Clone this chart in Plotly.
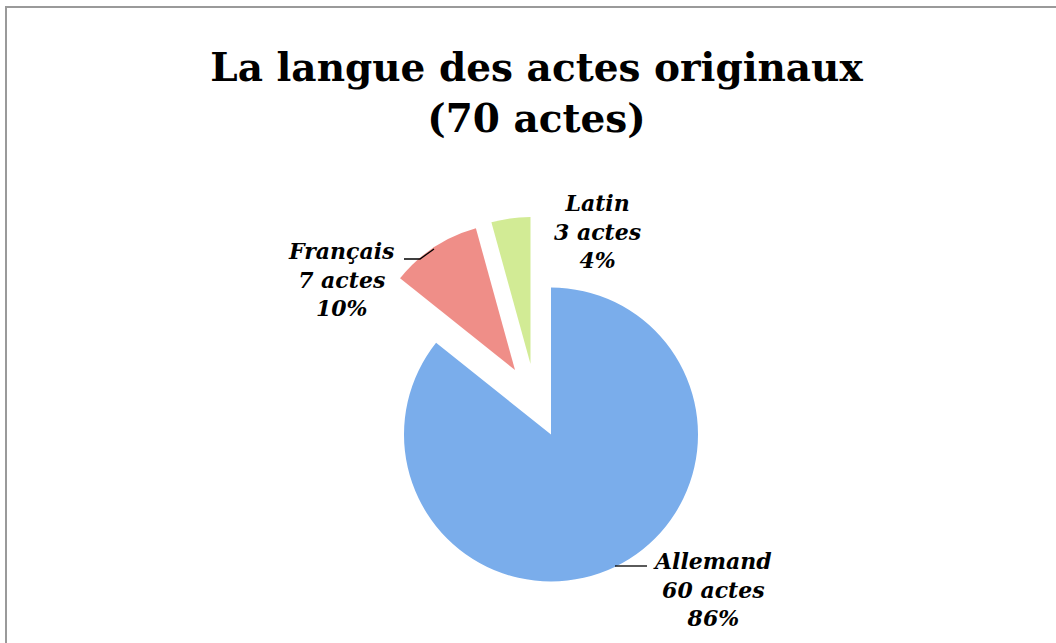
import plotly.graph_objects as go

# ---- data ----
labels = ["Allemand", "Français", "Latin"]
values = [60, 7, 3]
unit = "actes"
title_lines = ["La langue des actes originaux", "(70 actes)"]

# ---- style ----
colors = ["#7AADEB", "#EF8E88", "#D2EB95"]
W, H = 1056, 643
R = 147
# pixel position of each slice's tip (exploded slices are shifted)
centres = [(551, 434.5), (515, 370), (530.5, 364)]
label_pos = [(712, 589), (340.5, 279), (597, 231)]
SERIF = "DejaVu Serif"


def px(x):
    return x / W


def py(y):
    return 1 - y / H


total = sum(values)
fig = go.Figure()
for k, (cx, cy) in enumerate(centres):
    cols = [colors[i] if i == k else "rgba(0,0,0,0)" for i in range(len(values))]
    fig.add_trace(go.Pie(
        labels=labels, values=values, sort=False, direction="clockwise", rotation=0,
        marker=dict(colors=cols, line=dict(width=0)),
        textinfo="none", hoverinfo="label+value+percent", showlegend=False,
        domain=dict(x=[px(cx - R), px(cx + R)], y=[py(cy + R), py(cy - R)]),
    ))

for i, (lx, ly) in enumerate(label_pos):
    pct = round(100 * values[i] / total)
    fig.add_annotation(
        x=px(lx), y=py(ly), xref="paper", yref="paper", showarrow=False,
        xanchor="center", yanchor="middle", align="center",
        text=f"{labels[i]}<br>{values[i]} {unit}<br>{pct}%",
        font=dict(family=SERIF, size=22, color="black", weight="bold", style="italic"),
    )

# leader lines
fig.add_shape(type="path", xref="paper", yref="paper",
              path=f"M {px(404)} {py(259)} L {px(420)} {py(259)} L {px(434)} {py(249)}",
              line=dict(color="black", width=1.3))
fig.add_shape(type="line", xref="paper", yref="paper",
              x0=px(615), y0=py(566), x1=px(647), y1=py(566),
              line=dict(color="black", width=1.3))

# chart frame
fig.add_shape(type="rect", xref="paper", yref="paper",
              x0=px(6), y0=py(700), x1=px(1100), y1=py(7),
              line=dict(color="#9A9A9A", width=2), fillcolor="rgba(0,0,0,0)", layer="below")

fig.update_layout(
    width=W, height=H,
    margin=dict(l=0, r=0, t=0, b=0),
    paper_bgcolor="white", plot_bgcolor="white",
    title=dict(
        text="<br>".join(title_lines),
        x=px(536.5), xanchor="center", xref="paper",
        y=py(81), yanchor="top", yref="paper",
        font=dict(family=SERIF, size=39, color="black", weight="bold"),
    ),
)

fig.write_html(
    "out.html",
    config={"displayModeBar": False},
    post_script="document.body.style.margin='0';document.body.style.overflow='hidden';",
)
